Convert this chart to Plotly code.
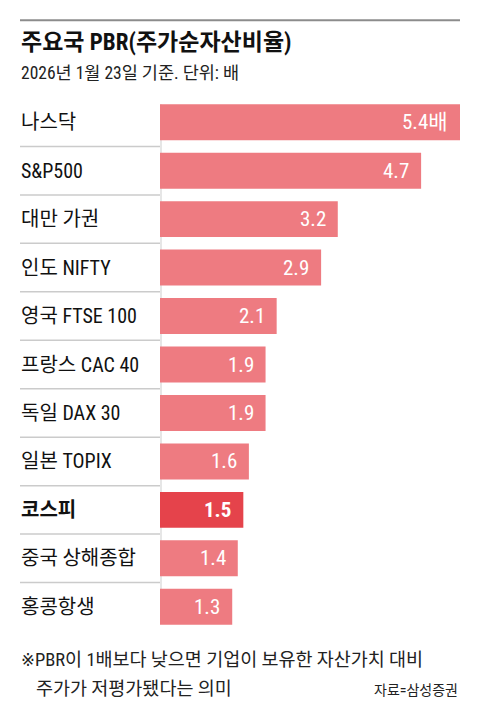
import plotly.graph_objects as go

# 주요국 PBR 데이터 (2026년 1월 23일 기준)
지수 = ['나스닥', 'S&P500', '대만 가권', '인도 NIFTY', '영국 FTSE 100', '프랑스 CAC 40',
      '독일 DAX 30', '일본 TOPIX', '코스피', '중국 상해종합', '홍콩항생']
pbr = [5.4, 4.7, 3.2, 2.9, 2.1, 1.9, 1.9, 1.6, 1.5, 1.4, 1.3]
값_라벨 = ['5.4배', '4.7', '3.2', '2.9', '2.1', '1.9', '1.9', '1.6', '1.5', '1.4', '1.3']
강조 = '코스피'

W, H = 480, 720
L, R = 160, 460          # 막대 영역 (픽셀)
TOP, BOT = 97.75, 631.25  # 플롯 영역 위/아래 (픽셀)
FONT = 'Liberation Sans Narrow, Roboto Condensed, DejaVu Sans Condensed, Roboto, Noto Sans CJK KR'


def px_x(p):
    return (p - L) / (R - L)


def px_y(p):
    return (BOT - p) / (BOT - TOP)


색 = ['#e5434b' if n == 강조 else '#ee7b81' for n in 지수]

fig = go.Figure(go.Bar(
    x=pbr, y=지수, orientation='h',
    marker=dict(color=색, line=dict(width=0)),
    hoverinfo='skip',
))

# 왼쪽 지수 이름
for n in 지수:
    굵게 = n == 강조
    fig.add_annotation(
        x=px_x(19), xref='paper', y=n, yref='y',
        text=f'<b>{n}</b>' if 굵게 else n,
        showarrow=False, xanchor='left', yanchor='middle',
        font=dict(family=FONT, size=20, color='#111'),
    )

# 막대 안쪽 값
for n, v, t in zip(지수, pbr, 값_라벨):
    fig.add_annotation(
        x=v, xref='x', y=n, yref='y', text=f'<b>{t}</b>' if n == 강조 else t,
        showarrow=False, xanchor='right', yanchor='middle', xshift=-10,
        font=dict(family=FONT, size=21, color='white'),
    )

# 이름 사이 구분선
for i in range(len(지수) - 1):
    fig.add_shape(type='line', xref='paper', yref='y',
                  x0=px_x(20), x1=0, y0=i + 0.5, y1=i + 0.5,
                  line=dict(color='#cbcbcb', width=1.5))

# 막대 시작선 그림자
fig.add_shape(type='line', xref='paper', yref='paper', layer='below',
              x0=px_x(161), x1=px_x(161), y0=px_y(622), y1=px_y(104),
              line=dict(color='#e6e6e6', width=2))

# 맨 위 회색 선
fig.add_shape(type='line', xref='paper', yref='paper',
              x0=px_x(20), x1=px_x(460), y0=px_y(20), y1=px_y(20),
              line=dict(color='#8c8c8c', width=2))

# 제목, 부제
fig.add_annotation(x=px_x(19), y=px_y(42.5), xref='paper', yref='paper',
                   text='<b>주요국 PBR(주가순자산비율)</b>', showarrow=False,
                   xanchor='left', yanchor='middle',
                   font=dict(family=FONT, size=23, color='#111'))
fig.add_annotation(x=px_x(19), y=px_y(73), xref='paper', yref='paper',
                   text='2026년 1월 23일 기준. 단위: 배', showarrow=False,
                   xanchor='left', yanchor='middle',
                   font=dict(family=FONT, size=17.5, color='#222'))

# 주석, 출처
fig.add_annotation(x=px_x(19), y=px_y(660), xref='paper', yref='paper',
                   text='※PBR이 1배보다 낮으면 기업이 보유한 자산가치 대비', showarrow=False,
                   xanchor='left', yanchor='middle',
                   font=dict(family=FONT, size=18.5, color='#222'))
fig.add_annotation(x=px_x(34), y=px_y(689), xref='paper', yref='paper',
                   text='주가가 저평가됐다는 의미', showarrow=False,
                   xanchor='left', yanchor='middle',
                   font=dict(family=FONT, size=18.5, color='#222'))
fig.add_annotation(x=px_x(460), y=px_y(690), xref='paper', yref='paper',
                   text='자료=삼성증권', showarrow=False,
                   xanchor='right', yanchor='middle',
                   font=dict(family=FONT, size=14, color='#222'))

fig.update_layout(
    width=W, height=H,
    margin=dict(l=L, r=W - R, t=TOP, b=H - BOT, pad=0),
    paper_bgcolor='white', plot_bgcolor='white',
    bargap=0.258,
    showlegend=False,
    xaxis=dict(range=[0, 5.4], visible=False, fixedrange=True),
    yaxis=dict(range=[len(지수) - 0.5, -0.5], visible=False, fixedrange=True,
               type='category'),
)

# 페이지 기본 여백 제거
fig.write_html('out.html', config={'displayModeBar': False},
               post_script="document.body.style.margin='0';")
